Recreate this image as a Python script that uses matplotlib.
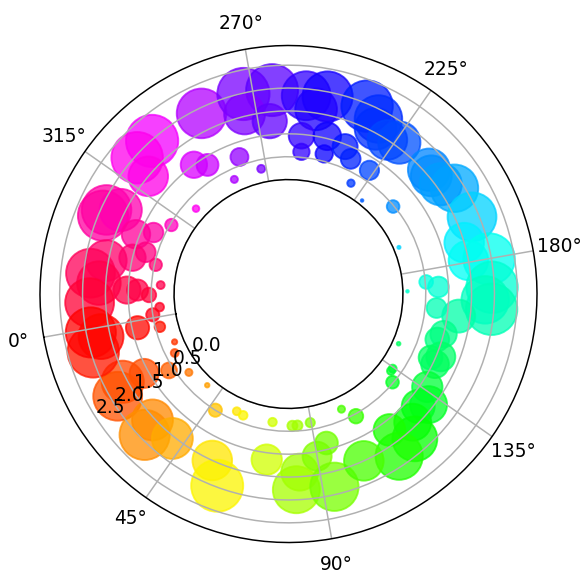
import numpy as np
import matplotlib
matplotlib.use("Agg")
import matplotlib.pyplot as plt

# angle in degrees, radius, grouped roughly by colour
theta_deg = [
    285.7, 301.7, 308.0, 310.0, 325.2, 296.2, 292.1, 307.3, 325.5,
    272.7, 264.6, 273.7, 266.2, 254.9, 248.8, 251.5, 237.3, 232.2,
    255.3, 254.8, 245.7, 246.2, 239.0, 235.3, 226.8, 230.6, 279.7,
    272.3, 285.3, 232.8, 223.8, 227.3, 211.5, 209.6, 202.5, 205.8,
    192.8, 209.9, 221.8, 186.3, 180.6, 179.9, 171.9, 165.7, 168.3,
    162.6, 172.7, 175.0, 164.6, 155.5, 153.0, 147.6, 144.4, 145.9,
    192.9, 171.3, 145.7, 133.1, 134.4, 129.7, 136.2, 129.1, 131.7,
    124.1, 121.1, 114.3, 38.3, 47.8, 56.2, 59.5, 72.9, 81.7,
    83.9, 89.6, 104.7, 108.9, 55.4, 59.6, 72.5, 82.3, 83.6,
    90.0, 94.3, 93.4, 104.3, 116.6, 17.9, 18.8, 22.6, 20.9,
    28.2, 32.8, 34.4, 41.2, 6.5, 327.1, 323.4, 319.5, 328.6,
    333.7, 336.9, 339.6, 337.6, 344.0, 346.7, 348.6, 348.5, 346.0,
    350.4, 352.5, 355.8, 358.7, 1.0, 2.8, 2.6, 4.3, 12.8, 17.4,
]
r = [
    1.88, 1.98, 1.95, 1.50, 1.88, 1.00, 0.83, 0.25, 0.74,
    1.98, 1.97, 1.55, 1.30, 1.85, 1.90, 1.58, 1.95, 1.58,
    0.97, 0.62, 0.66, 1.05, 0.95, 0.75, 0.73, 0.28, 0.68,
    0.30, 0.27, 1.80, 1.60, 1.50, 1.60, 1.55, 1.80, 1.60,
    1.85, 0.48, 0.10, 1.50, 1.50, 1.95, 1.95, 1.95, 1.80,
    1.25, 0.78, 0.52, 0.75, 1.00, 0.90, 1.10, 1.05, 0.90,
    0.12, 0.10, 0.14, 0.30, 0.30, 0.48, 1.15, 1.25, 1.40,
    1.40, 1.70, 1.79, 0.17, 0.50, 0.30, 0.33, 0.32, 0.38,
    0.38, 0.35, 0.27, 0.55, 1.50, 1.97, 1.15, 1.78, 1.40,
    1.10, 0.86, 1.83, 1.50, 1.20, 1.60, 1.10, 0.60, 1.85,
    0.27, 1.55, 1.90, 1.55, 1.95, 1.90, 1.60, 0.47, 1.08,
    0.75, 1.00, 1.55, 0.47, 1.85, 1.65, 1.03, 0.80, 0.30,
    0.55, 1.85, 0.33, 0.50, 1.90, 1.70, 0.88, 0.40, 0.20, 0.30,
]

theta = np.deg2rad(theta_deg)
r = np.array(r)
area = 200 * r**2

dpi = 134.5
fig = plt.figure(figsize=(583 / dpi, 571 / dpi), dpi=dpi)
ax = fig.add_axes([0.0686, 0.0499, 0.8525, 0.8704], projection="polar")
ax.scatter(theta, r, c=theta, s=area, cmap="hsv", vmin=0, vmax=2 * np.pi,
           alpha=0.75)

ax.set_rorigin(-2.5)
ax.set_theta_zero_location("W", offset=10)
ax.set_ylim(0, 2.93)

fig.savefig("out.png", dpi=dpi)
